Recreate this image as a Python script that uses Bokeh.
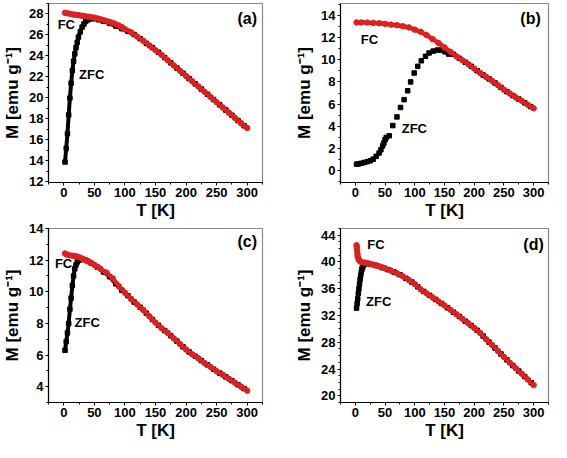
from bokeh.plotting import figure
from bokeh.layouts import column, row
from bokeh.models import Range1d, SingleIntervalTicker, Label
from bokeh.embed import file_html
from bokeh.resources import INLINE

# ---------------- data ----------------
# panel (a)
a_zfc_T = [2, 4, 6, 8, 10, 12, 14, 16, 18, 20, 22, 24, 27, 30, 33, 36, 40, 45, 50,
           57, 65, 75, 85, 95, 105, 115, 125, 135, 145, 155, 165, 175, 185, 195,
           205, 215, 225, 235, 245, 255, 265, 275, 285, 295]
a_zfc_M = [13.9, 15.2, 16.6, 18.4, 20.0, 21.4, 22.6, 23.5, 24.2, 24.8, 25.3, 25.8, 26.3, 26.75, 27.05, 27.3, 27.45, 27.55, 27.55,
           27.45, 27.3, 27.1, 26.85, 26.6, 26.35, 26.05, 25.65, 25.2, 24.8, 24.35, 23.85, 23.35, 22.85, 22.35,
           21.85, 21.35, 20.85, 20.35, 19.85, 19.35, 18.85, 18.35, 17.85, 17.35]
a_fc_T = [2, 5, 10, 15, 20, 25, 30, 35, 40, 45, 50, 55, 60, 65, 70, 75, 80, 85, 90, 95,
          100, 110, 120, 130, 140, 150, 160, 170, 180, 190, 200, 210, 220, 230, 240,
          250, 260, 270, 280, 290, 300]
a_fc_M = [28.12, 28.08, 28.02, 27.96, 27.92, 27.88, 27.83, 27.79, 27.74, 27.7, 27.65, 27.58, 27.5, 27.42, 27.33, 27.25, 27.15, 27.03, 26.9, 26.75,
          26.55, 26.25, 25.85, 25.45, 25.0, 24.55, 24.1, 23.6, 23.1, 22.6, 22.1, 21.6, 21.1, 20.6, 20.1,
          19.6, 19.1, 18.6, 18.1, 17.6, 17.15]

# panel (b)
b_zfc_T = [2, 5, 10, 15, 20, 25, 30, 35, 40, 43, 46, 48, 50, 52,
           57, 63, 70, 76, 82, 88, 93, 99, 105, 111, 118, 124, 131, 138, 144, 151, 157,
           165, 175, 185, 195, 205, 215, 225, 235, 245, 255, 265, 275, 285, 295]
b_zfc_M = [0.6, 0.62, 0.68, 0.75, 0.82, 0.9, 1.05, 1.3, 1.6, 1.9, 2.25, 2.5, 2.8, 3.0,
           3.15, 4.07, 4.85, 5.7, 6.4, 7.2, 8.0, 8.8, 9.4, 9.9, 10.3, 10.6, 10.77, 10.86, 10.86, 10.7, 10.5,
           10.48, 10.12, 9.77, 9.4, 9.0, 8.62, 8.27, 7.9, 7.5, 7.12, 6.77, 6.45, 6.12, 5.78]
b_fc_T = [2, 10, 20, 30, 40, 50, 60, 70, 80, 90, 100, 110, 120, 130, 140, 150,
          160, 170, 180, 190, 200, 210, 220, 230, 240, 250, 260, 270, 280, 290, 300]
b_fc_M = [13.35, 13.35, 13.33, 13.3, 13.27, 13.22, 13.15, 13.1, 13.0, 12.9, 12.7, 12.5, 12.2, 11.85, 11.5, 11.1,
          10.7, 10.3, 9.95, 9.6, 9.2, 8.8, 8.45, 8.1, 7.7, 7.3, 6.95, 6.6, 6.3, 5.95, 5.62]

# panel (c)
c_zfc_T = [2, 4, 6, 8, 10, 12, 14, 16, 18, 20, 22, 25, 28, 32, 36, 40,
           45, 55, 65, 75, 85, 95, 105, 115, 125, 135, 145, 155, 165, 175, 185, 195,
           205, 215, 225, 235, 245, 255, 265, 275, 285, 295]
c_zfc_M = [6.3, 6.85, 7.4, 8.0, 8.9, 9.6, 10.4, 11.0, 11.45, 11.7, 11.88, 12.0, 12.08, 12.05, 12.0, 11.92,
           11.8, 11.55, 11.25, 10.95, 10.5, 10.1, 9.75, 9.35, 9.02, 8.65, 8.25, 7.88, 7.55, 7.22, 6.88, 6.52,
           6.2, 5.92, 5.65, 5.38, 5.1, 4.86, 4.62, 4.38, 4.12, 3.88]
c_fc_T = [2, 5, 10, 15, 20, 25, 30, 35, 40, 45, 50, 55, 60, 70, 80, 90, 100, 110, 120, 130, 140, 150,
          160, 170, 180, 190, 200, 210, 220, 230, 240, 250, 260, 270, 280, 290, 300]
c_fc_M = [12.42, 12.35, 12.3, 12.28, 12.25, 12.18, 12.1, 12.0, 11.92, 11.82, 11.7, 11.58, 11.45, 11.2, 10.85, 10.35, 9.94, 9.55, 9.2, 8.85, 8.45, 8.05,
          7.7, 7.4, 7.05, 6.7, 6.35, 6.05, 5.8, 5.5, 5.25, 4.98, 4.75, 4.5, 4.25, 4.0, 3.75]

# panel (d)
d_zfc_T = [2, 3, 4, 5, 6, 7, 8, 9, 10, 11, 12, 13, 14, 16, 18, 20,
           25, 35, 45, 55, 65, 75, 85, 95, 105, 115, 125, 135, 145, 155, 165, 175, 185, 195,
           205, 215, 225, 235, 245, 255, 265, 275, 285, 296]
d_zfc_M = [33.1, 33.8, 34.5, 35.3, 36.0, 36.7, 37.4, 38.0, 38.5, 38.9, 39.2, 39.4, 39.55, 39.7, 39.8, 39.8,
           39.65, 39.45, 39.15, 38.85, 38.5, 38.1, 37.55, 37.0, 36.3, 35.6, 35.0, 34.4, 33.8, 33.15, 32.5, 31.85, 31.15, 30.5,
           29.78, 28.93, 28.02, 27.15, 26.25, 25.37, 24.52, 23.7, 22.87, 21.95]
d_fc_T = [2, 2.5, 3, 3.5, 4, 5, 6, 8, 10, 15, 20, 25, 30, 35, 40, 45, 50, 60, 70, 80, 90,
          100, 110, 120, 130, 140, 150, 160, 170, 180, 190, 200, 210, 220, 230, 240, 250,
          260, 270, 280, 290, 300]
d_fc_M = [42.5, 42.2, 41.7, 41.2, 40.8, 40.5, 40.3, 40.1, 40.0, 39.9, 39.8, 39.7, 39.6, 39.5, 39.35, 39.2, 39.05, 38.7, 38.3, 37.85, 37.3,
          36.7, 35.9, 35.3, 34.7, 34.1, 33.5, 32.85, 32.2, 31.5, 30.85, 30.15, 29.4, 28.45, 27.6, 26.7, 25.8,
          24.95, 24.1, 23.3, 22.45, 21.6]

x_ticks_interval = 50
FONT = "Liberation Sans"
RED = "#dd2020"
BLACK = "#000000"


def make_panel(width, height, left, right, top, bottom, yr, y_int, y_minor,
               zfc_T, zfc_M, fc_T, fc_M, letter, letter_pos, fc_pos, zfc_pos,
               zfc_line_slices=None):
    p = figure(width=width, height=height, output_backend="svg", toolbar_location=None,
               x_range=Range1d(-25, 325), y_range=Range1d(*yr),
               min_border_left=left, min_border_right=right,
               min_border_top=top, min_border_bottom=bottom)
    p.xgrid.visible = False
    p.ygrid.visible = False
    p.outline_line_color = "#8a8a8a"
    p.outline_line_width = 1.2
    p.background_fill_color = "white"
    p.border_fill_color = "white"

    p.xaxis.ticker = SingleIntervalTicker(interval=x_ticks_interval, num_minor_ticks=2)
    p.yaxis.ticker = SingleIntervalTicker(interval=y_int, num_minor_ticks=y_minor)
    p.xaxis.axis_label = "T [K]"
    p.yaxis.axis_label = "M [emu g\u207b\u00b9]"
    for ax in (p.xaxis, p.yaxis):
        ax.axis_label_text_font = FONT
        ax.axis_label_text_font_style = "bold"
        ax.axis_label_text_font_size = "17px"
        ax.axis_label_text_color = "black"
        ax.major_label_text_font = FONT
        ax.major_label_text_font_style = "bold"
        ax.major_label_text_font_size = "13px"
        ax.major_label_text_color = "black"
        ax.axis_line_color = "black"
        ax.axis_line_width = 1.2
        ax.major_tick_line_color = "black"
        ax.minor_tick_line_color = "black"
        ax.major_tick_in = 0
        ax.major_tick_out = 3
        ax.minor_tick_in = 0
        ax.minor_tick_out = 2
        ax.major_label_standoff = 2
    p.xaxis.axis_label_standoff = 1
    p.yaxis.axis_label_standoff = 4

    # ZFC (black squares)
    if zfc_line_slices is None:
        zfc_line_slices = [(0, len(zfc_T))]
    for s, e in zfc_line_slices:
        p.line(zfc_T[s:e], zfc_M[s:e], line_color=BLACK, line_width=4)
    p.scatter(zfc_T, zfc_M, marker="square", size=4.5, fill_color=BLACK, line_color=BLACK)
    # FC (red circles)
    p.line(fc_T, fc_M, line_color=RED, line_width=4.5)
    p.scatter(fc_T, fc_M, marker="circle", size=5.5, fill_color=RED, line_color=RED)

    def lab(txt, pos, align, size):
        p.add_layout(Label(x=pos[0], y=pos[1], text=txt, text_align=align,
                           text_baseline="middle", text_font=FONT, text_font_style="bold",
                           text_font_size=size, text_color="black"))
    lab(letter, letter_pos, "right", "16px")
    lab("FC", fc_pos, "left", "13px")
    lab("ZFC", zfc_pos, "left", "13px")
    return p


pa = make_panel(292, 222, 45, 30, 3, 40, (11.95, 29.0), 2, 2,
                a_zfc_T, a_zfc_M, a_fc_T, a_fc_M, "(a)", (316, 27.6), (-10, 27.0), (25, 22.2))
pb = make_panel(259, 222, 45, 3, 3, 40, (-1.05, 15.05), 2, 2,
                b_zfc_T, b_zfc_M, b_fc_T, b_fc_M, "(b)", (312, 13.7), (9, 11.8), (78, 3.8),
                zfc_line_slices=[(0, 14), (31, len(b_zfc_T))])
pc = make_panel(292, 220, 45, 30, 6, 40, (3.0, 14.0), 2, 2,
                c_zfc_T, c_zfc_M, c_fc_T, c_fc_M, "(c)", (316, 13.17), (-14.5, 11.78), (17.7, 8.06))
pd = make_panel(259, 220, 45, 3, 6, 40, (19.0, 45.0), 4, 4,
                d_zfc_T, d_zfc_M, d_fc_T, d_fc_M, "(d)", (317, 42.65), (20, 42.65), (18, 34.06))

layout = column(row(pa, pb), row(pc, pd))
open("out.html", "w").write(file_html(layout, INLINE))
